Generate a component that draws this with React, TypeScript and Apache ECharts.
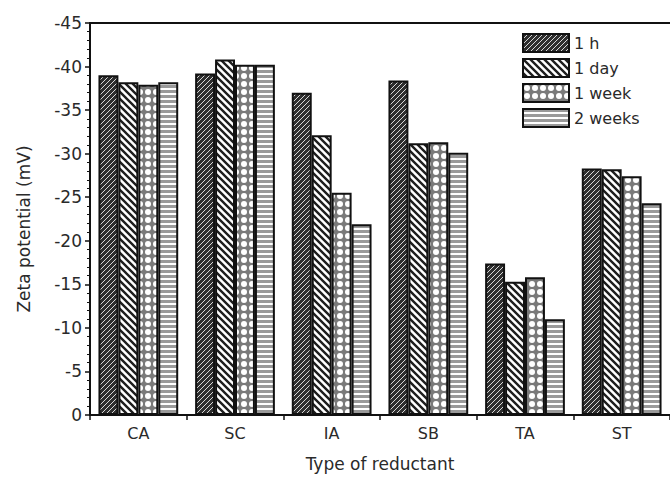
import React, { useEffect, useRef } from "react";
import * as echarts from "echarts";

// Reductant types on the category axis
const reductants = ["CA", "SC", "IA", "SB", "TA", "ST"];

// Zeta potential (mV) after each ageing time
const series1h = [-39.0, -39.2, -37.0, -38.4, -17.4, -28.3];
const series1day = [-38.2, -40.8, -32.1, -31.2, -15.3, -28.2];
const series1week = [-37.9, -40.2, -25.5, -31.3, -15.8, -27.4];
const series2weeks = [-38.2, -40.2, -21.9, -30.1, -11.0, -24.3];

const seriesNames = ["1 h", "1 day", "1 week", "2 weeks"];

// Build a small repeating tile on a canvas for a hatch pattern
function makeTile(w: number, h: number, draw: (ctx: CanvasRenderingContext2D) => void) {
  const c = document.createElement("canvas");
  c.width = w;
  c.height = h;
  const ctx = c.getContext("2d")!;
  draw(ctx);
  return { image: c, repeat: "repeat" as const };
}

function patterns() {
  // dense white "/" strokes on dark grey
  const dense = makeTile(5, 5, (ctx) => {
    ctx.fillStyle = "#2e2e2e";
    ctx.fillRect(0, 0, 5, 5);
    ctx.strokeStyle = "#d8d8d8";
    ctx.lineWidth = 1;
    ctx.beginPath();
    ctx.moveTo(-1, 6);
    ctx.lineTo(6, -1);
    ctx.stroke();
  });
  // black "\" diagonal hatch on white
  const diag = makeTile(7, 7, (ctx) => {
    ctx.fillStyle = "#ffffff";
    ctx.fillRect(0, 0, 7, 7);
    ctx.strokeStyle = "#1e1e1e";
    ctx.lineWidth = 2.4;
    ctx.beginPath();
    ctx.moveTo(-1, -1);
    ctx.lineTo(8, 8);
    ctx.moveTo(-1, 6);
    ctx.lineTo(1, 8);
    ctx.moveTo(6, -1);
    ctx.lineTo(8, 1);
    ctx.stroke();
  });
  // grey lattice with white round holes
  const holes = makeTile(8, 8, (ctx) => {
    ctx.fillStyle = "#7a7a7a";
    ctx.fillRect(0, 0, 8, 8);
    ctx.fillStyle = "#ffffff";
    ctx.beginPath();
    ctx.arc(4, 4, 3, 0, Math.PI * 2);
    ctx.fill();
  });
  // horizontal grey lines
  const horiz = makeTile(4, 5, (ctx) => {
    ctx.fillStyle = "#ffffff";
    ctx.fillRect(0, 0, 4, 5);
    ctx.fillStyle = "#9a9a9a";
    ctx.fillRect(0, 0, 4, 3);
  });
  return [dense, diag, holes, horiz];
}

export default function App() {
  const ref = useRef<HTMLDivElement>(null);

  useEffect(() => {
    if (!ref.current) return;
    const chart = echarts.init(ref.current, undefined, { renderer: "svg" });
    const fills = patterns();
    const data = [series1h, series1day, series1week, series2weeks];
    const font = "DejaVu Sans, Verdana, sans-serif";
    const ink = "#2a2a2a";

    chart.setOption({
      animation: false,
      backgroundColor: "#ffffff",
      textStyle: { fontFamily: font },
      grid: { left: 90, top: 23, width: 590, bottom: 59, containLabel: false },
      legend: {
        orient: "vertical",
        left: 522,
        top: 33,
        padding: 0,
        itemWidth: 46,
        itemHeight: 18,
        itemGap: 5,
        icon: "rect",
        data: seriesNames,
        itemStyle: { borderColor: "#111111", borderWidth: 2 },
        textStyle: { fontSize: 16, color: ink, fontFamily: font, padding: [0, 0, 0, 0] },
      },
      xAxis: [
        {
          type: "category",
          data: reductants,
          position: "bottom",
          name: "Type of reductant",
          nameLocation: "middle",
          nameGap: 40,
          nameTextStyle: { fontSize: 17, color: ink },
          axisLine: { lineStyle: { color: "#111111", width: 2 } },
          axisTick: { show: true, length: 5, lineStyle: { color: "#111111", width: 1.5 } },
          axisLabel: { fontSize: 16, color: ink, margin: 10 },
        },
        {
          type: "category",
          data: reductants,
          position: "top",
          axisLine: { lineStyle: { color: "#111111", width: 2 } },
          axisTick: { show: false },
          axisLabel: { show: false },
        },
      ],
      yAxis: {
        type: "value",
        inverse: true,
        min: -45,
        max: 0,
        interval: 5,
        name: "Zeta potential (mV)",
        nameLocation: "middle",
        nameGap: 58,
        nameTextStyle: { fontSize: 17, color: ink, padding: [0, 20, 0, 0] },
        axisLine: { show: true, lineStyle: { color: "#111111", width: 2 } },
        axisTick: { show: true, length: 5, lineStyle: { color: "#111111", width: 1.5 } },
        minorTick: { show: true, splitNumber: 5, length: 3, lineStyle: { color: "#111111", width: 1 } },
        splitLine: { show: false },
        axisLabel: { fontSize: 17, color: ink, margin: 8 },
      },
      series: data.map((values, i) => ({
        name: seriesNames[i],
        type: "bar",
        xAxisIndex: 0,
        data: values,
        barGap: "0%",
        barCategoryGap: "17.5%",
        itemStyle: { color: fills[i], borderColor: "#111111", borderWidth: 2 },
      })),
    });

    return () => chart.dispose();
  }, []);

  return <div ref={ref} style={{ width: 670, height: 477, position: "absolute", left: 0, top: 0 }} />;
}
